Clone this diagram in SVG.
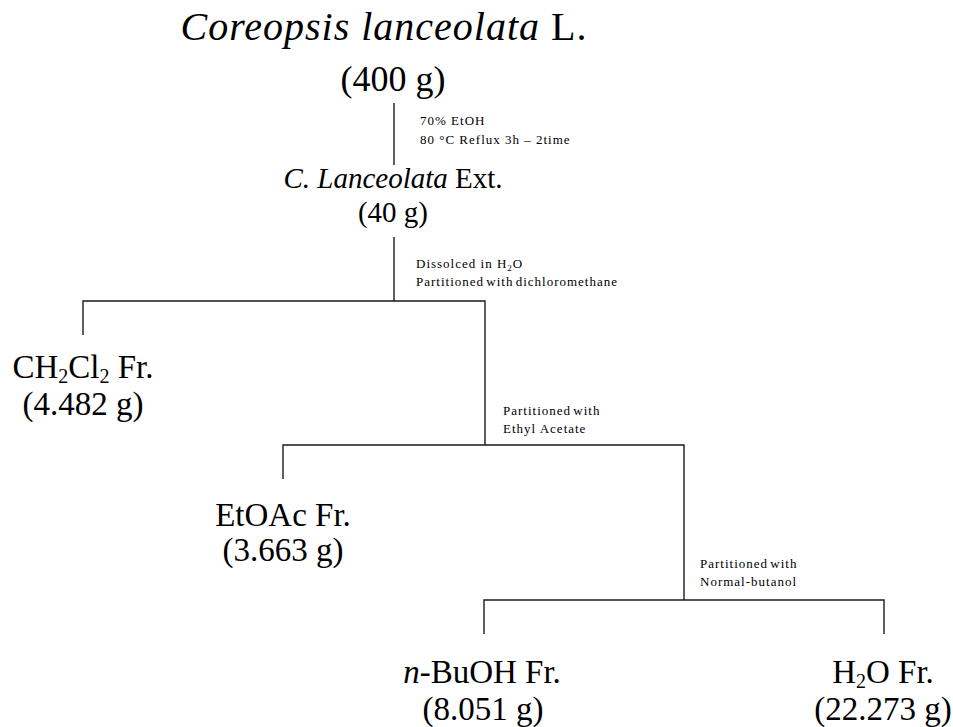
<svg xmlns="http://www.w3.org/2000/svg" width="953" height="727" viewBox="0 0 953 727">
  <style>
    .node { font-family: "Liberation Serif", "Times New Roman", serif; fill: #000; text-anchor: middle; }
    .big { font-size: 33px; }
    .sub { font-size: 20px; }
    .note { font-family: "Liberation Serif", "Times New Roman", serif; font-size: 13px; letter-spacing: 1px; fill: #000; }
    .link { stroke: #1a1a1a; stroke-width: 1.4; fill: none; }
  </style>
  <rect width="953" height="727" fill="#fff"/>

  <!-- connectors -->
  <g id="connectors">
    <path class="link" d="M394 103 V165"/>
    <path class="link" d="M394 237 V301"/>
    <path class="link" d="M83 335 V301 H485 V445"/>
    <path class="link" d="M283 479 V445 H684 V600"/>
    <path class="link" d="M484 634 V600 H884 V634"/>
  </g>

  <!-- step conditions -->
  <g id="labels">
    <text class="note" x="420" y="125">70% EtOH</text>
    <text class="note" x="420" y="144">80 °C Reflux 3h – 2time</text>
    <text class="note" x="416" y="268">Dissolced in H<tspan font-size="9" dy="3">2</tspan><tspan dy="-3">O</tspan></text>
    <text class="note" x="416" y="286" word-spacing="-2">Partitioned with dichloromethane</text>
    <text class="note" x="503" y="415" word-spacing="-2">Partitioned with</text>
    <text class="note" x="503" y="433">Ethyl Acetate</text>
    <text class="note" x="700" y="568" word-spacing="-2">Partitioned with</text>
    <text class="note" x="700" y="586">Normal-butanol</text>
  </g>

  <g id="plant">
    <text class="node" x="384" y="40" font-size="40" letter-spacing="1"><tspan font-style="italic">Coreopsis lanceolata</tspan> L.</text>
    <text class="node" x="393" y="91" font-size="36">(400 g)</text>
  </g>

  <g id="extract">
    <text class="node" x="393" y="188" font-size="29"><tspan font-style="italic">C. Lanceolata</tspan> Ext.</text>
    <text class="node" x="393" y="222" font-size="29">(40 g)</text>
  </g>

  <g id="ch2cl2-fraction">
    <text class="node big" x="83" y="378">CH<tspan class="sub" dy="5">2</tspan><tspan dy="-5">Cl</tspan><tspan class="sub" dy="5">2</tspan><tspan dy="-5"> Fr.</tspan></text>
    <text class="node big" x="83" y="415">(4.482 g)</text>
  </g>

  <g id="etoac-fraction">
    <text class="node big" x="283" y="526">EtOAc Fr.</text>
    <text class="node big" x="283" y="561">(3.663 g)</text>
  </g>

  <g id="buoh-fraction">
    <text class="node big" x="482" y="683"><tspan font-style="italic">n</tspan>-BuOH Fr.</text>
    <text class="node big" x="483" y="720">(8.051 g)</text>
  </g>

  <g id="water-fraction">
    <text class="node big" x="883" y="683">H<tspan class="sub" dy="5">2</tspan><tspan dy="-5">O Fr.</tspan></text>
    <text class="node big" x="883" y="720">(22.273 g)</text>
  </g>
</svg>
